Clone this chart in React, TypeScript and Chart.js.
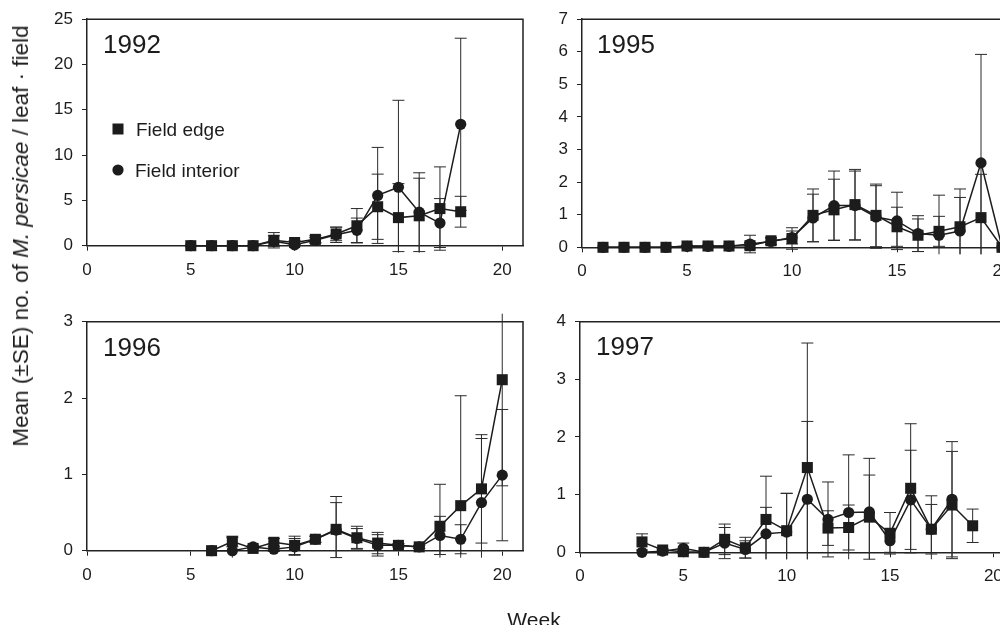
import React, { useEffect, useRef } from 'react';
import { Chart, registerables } from 'chart.js';

Chart.register(...registerables);

const FONT = '"Liberation Sans", Arial, Helvetica, sans-serif';
const INK = '#1c1c1c';

// ---------- shared axis settings ----------
const xTickValues = [0, 5, 10, 15, 20];
const xMax = 21;

// ---------- 1992 ----------
const weeks1992 = [5, 6, 7, 8, 9, 10, 11, 12, 13, 14, 15, 16, 17, 18];
const edge1992 = [0, 0, 0, 0, 0.6, 0.35, 0.7, 1.3, 2.2, 4.3, 3.1, 3.3, 4.1, 3.75];
const edgeSE1992 = [0, 0, 0, 0, 0.85, 0.2, 0.4, 0.75, 1.9, 3.6, 3.75, 4.15, 4.6, 1.7];
const interior1992 = [0, 0, 0, 0, 0.5, 0.1, 0.6, 1.2, 1.7, 5.55, 6.45, 3.7, 2.5, 13.4];
const interiorSE1992 = [0, 0, 0, 0, 0.6, 0.1, 0.3, 0.85, 1.35, 5.3, 9.6, 4.35, 2.7, 9.5];

// ---------- 1995 ----------
const weeks1995 = [1, 2, 3, 4, 5, 6, 7, 8, 9, 10, 11, 12, 13, 14, 15, 16, 17, 18, 19, 20];
const edge1995 = [0, 0, 0, 0, 0.04, 0.04, 0.04, 0.05, 0.2, 0.27, 0.98, 1.15, 1.31, 0.98, 0.63, 0.37, 0.49, 0.63, 0.91, 0];
const edgeSE1995 = [0, 0, 0, 0, 0.02, 0.02, 0.02, 0.1, 0.1, 0.33, 0.81, 0.94, 1.08, 0.96, 0.6, 0.5, 0.46, 0.9, 1.33, 0];
const interior1995 = [0, 0, 0, 0, 0.03, 0.03, 0.03, 0.1, 0.18, 0.3, 0.9, 1.28, 1.28, 0.93, 0.81, 0.42, 0.37, 0.5, 2.59, 0];
const interiorSE1995 = [0, 0, 0, 0, 0.02, 0.02, 0.02, 0.27, 0.1, 0.2, 0.73, 1.06, 1.06, 0.96, 0.88, 0.55, 1.23, 1.29, 3.33, 0];

// ---------- 1996 ----------
const weeks1996 = [6, 7, 8, 9, 10, 11, 12, 13, 14, 15, 16, 17, 18, 19, 20];
const edge1996 = [0, 0.12, 0.03, 0.11, 0.07, 0.15, 0.28, 0.17, 0.1, 0.07, 0.05, 0.32, 0.59, 0.81, 2.24];
const edgeSE1996 = [0, 0.07, 0.02, 0.05, 0.12, 0.04, 0.43, 0.15, 0.14, 0.02, 0.02, 0.55, 1.44, 0.71, 1.39];
const interior1996 = [0, 0, 0.05, 0.02, 0.05, 0.15, 0.27, 0.16, 0.07, 0.07, 0.05, 0.2, 0.15, 0.63, 0.99];
const interiorSE1996 = [0, 0.17, 0.02, 0.03, 0.11, 0.04, 0.36, 0.13, 0.14, 0.02, 0.02, 0.25, 0.19, 0.84, 0.86];

// ---------- 1997 ----------
const edgeWeeks1997 = [3, 4, 5, 6, 7, 8, 9, 10, 11, 12, 13, 14, 15, 16, 17, 18, 19];
const edge1997 = [0.18, 0.04, 0.01, 0, 0.225, 0.08, 0.57, 0.375, 1.47, 0.42, 0.43, 0.61, 0.33, 1.11, 0.4, 0.82, 0.46];
const edgeSE1997 = [0.14, 0.02, 0.02, 0, 0.265, 0.18, 0.75, 0.65, 2.16, 0.3, 0.39, 0.73, 0.36, 1.12, 0.58, 0.93, 0.29];
const interiorWeeks1997 = [3, 4, 5, 6, 7, 8, 9, 10, 11, 12, 13, 14, 15, 16, 17, 18];
const interior1997 = [0, 0.02, 0.07, 0, 0.16, 0.05, 0.32, 0.35, 0.92, 0.57, 0.69, 0.7, 0.2, 0.91, 0.4, 0.92];
const interiorSE1997 = [0, 0.02, 0.09, 0, 0.27, 0.15, 0.46, 0.67, 1.35, 0.65, 1.0, 0.93, 0.2, 0.86, 0.43, 1.0];

const legendLabels = ['Field edge', 'Field interior'];
const yAxisTitle = ['Mean (±SE) no. of ', 'M. persicae', ' / leaf · field'];
const xAxisTitle = 'Week';

type Box = { left: number; top: number; width: number; height: number };
type Area = { l: number; t: number; r: number; b: number };
type Panel = {
  id: string;
  year: string;
  edgeWeeks: number[];
  edgeMean: number[];
  edgeSE: number[];
  intWeeks: number[];
  intMean: number[];
  intSE: number[];
  yMax: number;
  yStep: number;
  box: Box;
  area: Area;
  yearPos: [number, number];
  legend: boolean;
};

const panels: Panel[] = [
  {
    id: 'p1992', year: '1992',
    edgeWeeks: weeks1992, edgeMean: edge1992, edgeSE: edgeSE1992,
    intWeeks: weeks1992, intMean: interior1992, intSE: interiorSE1992,
    yMax: 25, yStep: 5,
    box: { left: 0, top: 0, width: 545, height: 300 },
    area: { l: 87, t: 15, r: 523, b: 245.7 },
    yearPos: [103, 53], legend: true,
  },
  {
    id: 'p1995', year: '1995',
    edgeWeeks: weeks1995, edgeMean: edge1995, edgeSE: edgeSE1995,
    intWeeks: weeks1995, intMean: interior1995, intSE: interiorSE1995,
    yMax: 7, yStep: 1,
    box: { left: 545, top: 0, width: 500, height: 300 },
    area: { l: 582, t: 16, r: 1023, b: 247.3 },
    yearPos: [597, 53], legend: false,
  },
  {
    id: 'p1996', year: '1996',
    edgeWeeks: weeks1996, edgeMean: edge1996, edgeSE: edgeSE1996,
    intWeeks: weeks1996, intMean: interior1996, intSE: interiorSE1996,
    yMax: 3, yStep: 1,
    box: { left: 0, top: 300, width: 545, height: 333 },
    area: { l: 87, t: 321.7, r: 523, b: 550.7 },
    yearPos: [103, 356], legend: false,
  },
  {
    id: 'p1997', year: '1997',
    edgeWeeks: edgeWeeks1997, edgeMean: edge1997, edgeSE: edgeSE1997,
    intWeeks: interiorWeeks1997, intMean: interior1997, intSE: interiorSE1997,
    yMax: 4, yStep: 1,
    box: { left: 545, top: 300, width: 500, height: 333 },
    area: { l: 580, t: 321.7, r: 1014, b: 552.3 },
    yearPos: [596, 355], legend: false,
  },
];

// error bars (drawn beneath the markers), clipped a little outside the plot area
const errorBarPlugin = {
  id: 'errorBars',
  beforeDatasetsDraw(chart: any) {
    const { ctx, chartArea, scales } = chart;
    const xs = scales.x;
    const ys = scales.y;
    const top = chartArea.top - 8;
    const bottom = chartArea.bottom + 7;
    const cap = 6;
    ctx.save();
    ctx.strokeStyle = '#2b2b2b';
    ctx.lineWidth = 1;
    chart.data.datasets.forEach((ds: any) => {
      const se: number[] = ds.se;
      if (!se) return;
      ds.data.forEach((p: any, i: number) => {
        const s = se[i];
        if (!s) return;
        const px = xs.getPixelForValue(p.x);
        let yh = ys.getPixelForValue(p.y + s);
        let yl = ys.getPixelForValue(p.y - s);
        const capH = yh >= top;
        const capL = yl <= bottom;
        yh = Math.max(yh, top);
        yl = Math.min(yl, bottom);
        ctx.beginPath();
        ctx.moveTo(px, yh);
        ctx.lineTo(px, yl);
        if (capH) {
          ctx.moveTo(px - cap, yh);
          ctx.lineTo(px + cap, yh);
        }
        if (capL) {
          ctx.moveTo(px - cap, yl);
          ctx.lineTo(px + cap, yl);
        }
        ctx.stroke();
      });
    });
    ctx.restore();
  },
};

// top and right border of each plot box
const framePlugin = {
  id: 'frame',
  beforeDatasetsDraw(chart: any) {
    const { ctx, chartArea } = chart;
    ctx.save();
    ctx.strokeStyle = '#222';
    ctx.lineWidth = 1.5;
    ctx.beginPath();
    ctx.moveTo(chartArea.left, chartArea.top);
    ctx.lineTo(chartArea.right, chartArea.top);
    ctx.lineTo(chartArea.right, chartArea.bottom);
    ctx.stroke();
    ctx.restore();
  },
};

// year label and (for 1992) the legend
const decorPlugin = {
  id: 'decor',
  afterDraw(chart: any, _args: any, opts: any) {
    const { ctx } = chart;
    const ox = opts.offsetX;
    const oy = opts.offsetY;
    ctx.save();
    ctx.fillStyle = INK;
    ctx.font = `26px ${FONT}`;
    ctx.textAlign = 'left';
    ctx.textBaseline = 'alphabetic';
    ctx.fillText(opts.year, opts.yearPos[0] - ox, opts.yearPos[1] - oy);
    if (opts.legend) {
      ctx.fillRect(118 - 5.5 - ox, 129 - 5.5 - oy, 11, 11);
      ctx.beginPath();
      ctx.arc(118 - ox, 170 - oy, 5.6, 0, Math.PI * 2);
      ctx.fill();
      ctx.font = `19px ${FONT}`;
      ctx.textBaseline = 'middle';
      ctx.fillText(legendLabels[0], 136 - ox, 131 - oy);
      ctx.fillText(legendLabels[1], 135 - ox, 172 - oy);
    }
    ctx.restore();
  },
};

function makeConfig(p: Panel): any {
  const { box, area } = p;
  const tickFont = { size: 17, family: FONT };
  const common = {
    borderColor: INK,
    backgroundColor: INK,
    borderWidth: 1.5,
    pointBackgroundColor: INK,
    pointBorderColor: INK,
    pointBorderWidth: 0,
    tension: 0,
    fill: false,
    clip: false,
  };
  return {
    type: 'line',
    data: {
      datasets: [
        {
          ...common,
          label: legendLabels[1],
          data: p.intWeeks.map((w, i) => ({ x: w, y: p.intMean[i] })),
          se: p.intSE,
          pointStyle: 'circle',
          pointRadius: 5.6,
        },
        {
          ...common,
          label: legendLabels[0],
          data: p.edgeWeeks.map((w, i) => ({ x: w, y: p.edgeMean[i] })),
          se: p.edgeSE,
          pointStyle: 'rect',
          pointRadius: 7.8,
        },
      ],
    },
    options: {
      responsive: false,
      animation: false,
      events: [],
      layout: {
        padding: {
          top: area.t - box.top,
          right: box.left + box.width - area.r,
          left: 0,
          bottom: 0,
        },
      },
      plugins: {
        legend: { display: false },
        tooltip: { enabled: false },
        decor: {
          year: p.year,
          yearPos: p.yearPos,
          legend: p.legend,
          offsetX: box.left,
          offsetY: box.top,
        },
      },
      scales: {
        x: {
          type: 'linear',
          min: 0,
          max: xMax,
          afterBuildTicks: (s: any) => {
            s.ticks = xTickValues.map((v) => ({ value: v }));
          },
          afterFit: (s: any) => {
            s.height = box.top + box.height - area.b;
          },
          grid: { display: true, drawOnChartArea: false, drawTicks: true, tickLength: 5, color: '#222', lineWidth: 1 },
          border: { display: true, color: '#222', width: 1.5 },
          ticks: { font: tickFont, color: INK, padding: 9, maxRotation: 0, autoSkip: false },
        },
        y: {
          type: 'linear',
          min: 0,
          max: p.yMax,
          afterFit: (s: any) => {
            s.width = area.l - box.left;
          },
          grid: { display: true, drawOnChartArea: false, drawTicks: true, tickLength: 5, color: '#222', lineWidth: 1 },
          border: { display: true, color: '#222', width: 1.5 },
          ticks: { font: tickFont, color: INK, padding: 9, stepSize: p.yStep, autoSkip: false },
        },
      },
    },
    plugins: [framePlugin, errorBarPlugin, decorPlugin],
  };
}

function PanelChart({ panel }: { panel: Panel }) {
  const ref = useRef<HTMLCanvasElement>(null);
  useEffect(() => {
    const c = ref.current;
    if (!c) return;
    const chart = new Chart(c, makeConfig(panel));
    return () => chart.destroy();
  }, [panel]);
  const { left, top, width, height } = panel.box;
  return (
    <canvas
      ref={ref}
      width={width}
      height={height}
      style={{ position: 'absolute', left, top, width, height, display: 'block' }}
    />
  );
}

export default function App() {
  return (
    <div
      style={{
        position: 'relative',
        width: 1008,
        height: 633,
        margin: -8,
        overflow: 'hidden',
        background: '#fff',
        fontFamily: FONT,
        color: INK,
      }}
    >
      {panels.map((p) => (
        <PanelChart key={p.id} panel={p} />
      ))}
      <div
        style={{
          position: 'absolute',
          left: 21,
          top: 236,
          transform: 'translate(-50%, -50%) rotate(-90deg)',
          whiteSpace: 'nowrap',
          fontSize: 22.5,
          lineHeight: '26px',
        }}
      >
        {yAxisTitle[0]}
        <i>{yAxisTitle[1]}</i>
        {yAxisTitle[2]}
      </div>
      <div
        style={{
          position: 'absolute',
          left: 534,
          top: 620,
          transform: 'translate(-50%, -50%)',
          whiteSpace: 'nowrap',
          fontSize: 21,
          lineHeight: '24px',
        }}
      >
        {xAxisTitle}
      </div>
    </div>
  );
}
